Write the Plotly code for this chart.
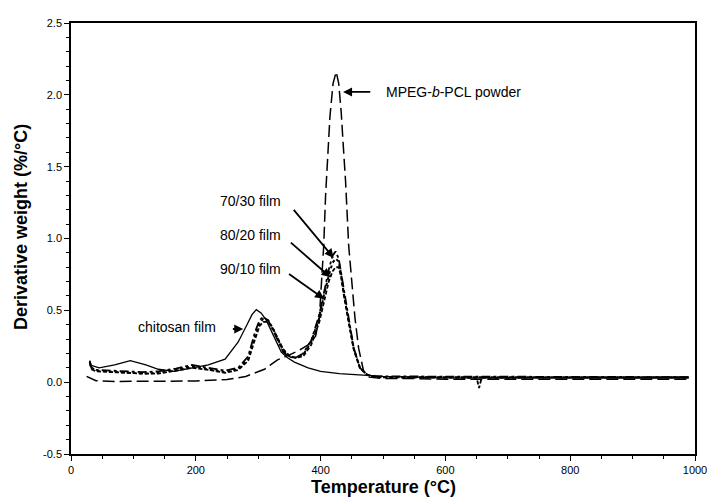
import plotly.graph_objects as go

# ---------------- data ----------------
mpeg_t = [25, 40, 70, 100, 150, 200, 250, 280, 310, 331, 350, 365, 380, 392, 398, 402, 405, 408, 411, 415, 420, 425,
          429, 433, 437, 440, 445, 450, 455, 461, 469, 478, 500, 550, 600, 700, 800, 900, 990]
mpeg_d = [0.04, 0.01, 0.005, 0.005, 0.005, 0.008, 0.018, 0.04, 0.09, 0.155, 0.19, 0.22, 0.26, 0.32, 0.45, 0.7, 0.95, 1.3,
          1.58, 1.85, 2.08, 2.16, 2.08, 1.88, 1.6, 1.4, 0.95, 0.69, 0.45, 0.235, 0.075, 0.035, 0.025, 0.025, 0.02, 0.02,
          0.02, 0.02, 0.02]

chit_t = [30, 45, 70, 95, 120, 140, 165, 195, 220, 247, 268, 282, 290, 297, 305, 313, 321, 330, 337, 347, 358, 380, 400,
          430, 463, 500, 600, 700, 800, 900, 990]
chit_d = [0.12, 0.10, 0.12, 0.15, 0.12, 0.09, 0.075, 0.10, 0.12, 0.16, 0.28, 0.40, 0.47, 0.505, 0.48, 0.43, 0.36, 0.28,
          0.21, 0.17, 0.14, 0.10, 0.075, 0.06, 0.05, 0.04, 0.03, 0.028, 0.028, 0.028, 0.028]

film_t = [30, 33, 40, 60, 90, 115, 140, 168, 194, 221, 247, 268, 284, 295, 302, 308, 316, 324, 332, 340, 350, 360, 372,
          385, 398, 405, 413, 419, 424, 429, 433, 437, 445, 453, 463, 475, 490, 550, 600, 640, 650, 654, 658, 670, 700,
          800, 900, 990]
film7030_d = [0.15, 0.10, 0.085, 0.08, 0.075, 0.07, 0.075, 0.095, 0.12, 0.10, 0.08, 0.10, 0.18, 0.35, 0.43, 0.455, 0.43,
              0.36, 0.28, 0.21, 0.175, 0.17, 0.20, 0.29, 0.47, 0.62, 0.78, 0.88, 0.91, 0.86, 0.76, 0.63, 0.43, 0.24,
              0.10, 0.05, 0.04, 0.04, 0.035, 0.035, 0.035, 0.035, 0.035, 0.035, 0.035, 0.035, 0.035, 0.035]
film8020_d = [0.14, 0.10, 0.08, 0.075, 0.07, 0.06, 0.065, 0.085, 0.11, 0.09, 0.07, 0.09, 0.16, 0.32, 0.41, 0.44, 0.43,
              0.37, 0.29, 0.22, 0.18, 0.17, 0.19, 0.28, 0.45, 0.60, 0.74, 0.83, 0.86, 0.84, 0.75, 0.62, 0.42, 0.235,
              0.10, 0.05, 0.035, 0.035, 0.03, 0.03, 0.03, 0.03, 0.03, 0.03, 0.03, 0.03, 0.035, 0.035]
film9010_d = [0.13, 0.09, 0.075, 0.07, 0.065, 0.06, 0.06, 0.08, 0.10, 0.085, 0.065, 0.085, 0.15, 0.30, 0.39, 0.42, 0.42,
              0.37, 0.30, 0.23, 0.185, 0.17, 0.18, 0.26, 0.42, 0.56, 0.70, 0.77, 0.80, 0.80, 0.73, 0.61, 0.41, 0.23,
              0.10, 0.05, 0.035, 0.035, 0.03, 0.03, 0.03, -0.04, 0.03, 0.03, 0.03, 0.03, 0.035, 0.035]

x_ticks = [0, 200, 400, 600, 800, 1000]
y_ticks = [-0.5, 0.0, 0.5, 1.0, 1.5, 2.0, 2.5]

# ---------------- figure ----------------
FONT = "Liberation Sans, Arial, sans-serif"
fig = go.Figure()

fig.add_trace(go.Scatter(x=mpeg_t, y=mpeg_d, mode="lines", name="MPEG-b-PCL powder",
                         line=dict(color="black", width=1.5, dash="12px,5px")))
fig.add_trace(go.Scatter(x=chit_t, y=chit_d, mode="lines", name="chitosan film",
                         line=dict(color="black", width=1.3)))
fig.add_trace(go.Scatter(x=film_t, y=film7030_d, mode="lines", name="70/30 film",
                         line=dict(color="black", width=1.8, dash="dashdot")))
fig.add_trace(go.Scatter(x=film_t, y=film8020_d, mode="lines", name="80/20 film",
                         line=dict(color="black", width=2.0, dash="dot")))
fig.add_trace(go.Scatter(x=film_t, y=film9010_d, mode="lines", name="90/10 film",
                         line=dict(color="black", width=1.8, dash="4px,2px")))

ann_font = dict(family=FONT, size=14, color="black")
annotations = []


def arrow(hx, hy, tx, ty):
    # arrow head at (hx, hy), tail at (tx, ty), data coordinates
    annotations.append(dict(x=hx, y=hy, ax=tx, ay=ty, xref="x", yref="y", axref="x", ayref="y",
                            text="", showarrow=True, arrowhead=2, arrowsize=1, arrowwidth=1.8,
                            arrowcolor="black", standoff=0, startstandoff=0))


def label(x, y, text, anchor):
    annotations.append(dict(x=x, y=y, xref="x", yref="y", text=text, showarrow=False,
                            xanchor=anchor, yanchor="middle", font=ann_font))


label(501, 2.02, "MPEG-<i>b</i>-PCL powder", "left")
arrow(436, 2.02, 482, 2.02)

label(339, 1.263, "70/30 film", "right")
arrow(421, 0.865, 355, 1.21)
label(339, 1.023, "80/20 film", "right")
arrow(416, 0.73, 350, 0.98)
label(339, 0.79, "90/10 film", "right")
arrow(405.5, 0.58, 347, 0.76)

label(235, 0.384, "chitosan film", "right")
arrow(276, 0.37, 257, 0.37)

# axis titles
annotations.append(dict(x=0.5, y=-0.0755, xref="paper", yref="paper", text="<b>Temperature (°C)</b>",
                        showarrow=False, xanchor="center", yanchor="middle",
                        font=dict(family=FONT, size=18, color="black")))
annotations.append(dict(x=-0.079, y=0.526, xref="paper", yref="paper", text="<b>Derivative weight (%/°C)</b>",
                        showarrow=False, xanchor="center", yanchor="middle", textangle=-90,
                        font=dict(family=FONT, size=18, color="black")))

axis_common = dict(showline=True, linecolor="black", linewidth=1.5, mirror=True, showgrid=False,
                   zeroline=False, ticks="outside", ticklen=5, tickwidth=1.2, tickcolor="black",
                   tickfont=dict(family=FONT, size=11, color="black"))

# the page body adds an 8px margin, so the figure is 8px smaller than the window
fig.update_layout(
    width=708, height=489,
    margin=dict(l=63, r=14, t=9, b=43),
    paper_bgcolor="white", plot_bgcolor="white",
    showlegend=False,
    annotations=annotations,
    xaxis=dict(range=[0, 1000], tickvals=x_ticks, ticktext=[str(v) for v in x_ticks],
               minor=dict(dtick=50, tick0=0, ticks="outside", ticklen=3, tickcolor="black"),
               **axis_common),
    yaxis=dict(range=[-0.5, 2.5], tickvals=y_ticks, ticktext=[f"{v:.1f}" for v in y_ticks],
               minor=dict(dtick=0.1, tick0=0, ticks="outside", ticklen=3, tickcolor="black"),
               **axis_common),
)

fig.write_html("out.html")
